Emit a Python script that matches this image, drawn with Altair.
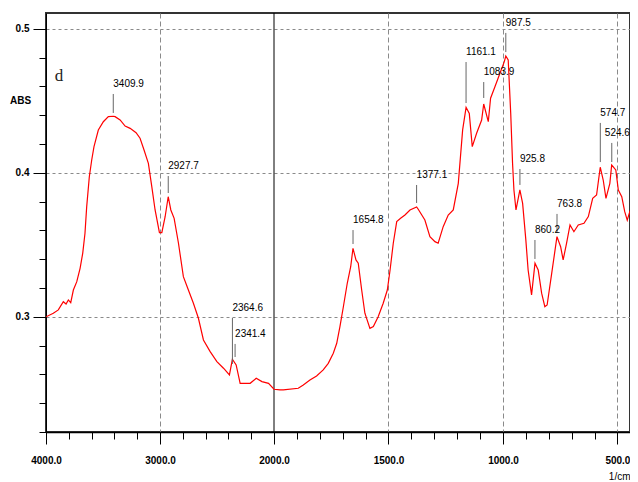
import altair as alt
import pandas as pd

# ---------------- data ----------------
wavenumber = [4000, 3936, 3892, 3848, 3824, 3804, 3783, 3760, 3730, 3701,
              3678, 3658, 3643, 3620, 3599, 3579, 3541, 3497, 3453, 3410,
              3394, 3350, 3306, 3262, 3210, 3175, 3140, 3102, 3072, 3043,
              3005, 2984, 2955, 2928, 2905, 2876, 2838, 2795, 2751, 2707,
              2663, 2619, 2560, 2501, 2443, 2391, 2365, 2332, 2297, 2209,
              2156, 2106, 2048, 2000,
              1974, 1959, 1894, 1872, 1843, 1814, 1785, 1763, 1741, 1726,
              1712, 1697, 1680, 1665, 1655, 1642, 1632, 1617, 1603, 1581,
              1566, 1545, 1523, 1505, 1493, 1479, 1464, 1447, 1428, 1406,
              1377, 1370, 1341, 1319, 1297, 1283, 1261, 1239, 1217, 1195,
              1176, 1161, 1147, 1134, 1115, 1093, 1084, 1064, 1054, 1035,
              1013, 994, 987.5, 977, 966, 958, 952, 943, 926, 914,
              900, 890, 875, 860, 846, 831, 817, 807, 787, 764,
              748, 737, 722, 707, 690, 671, 646, 627, 608, 591,
              575, 562, 550, 533, 525, 507, 496, 481, 468, 457,
              446, 432, 420, 409]

absorbance = [0.3000, 0.3025, 0.3048, 0.3105, 0.3089, 0.3117, 0.3098, 0.3186, 0.3244, 0.3337,
              0.3441, 0.3580, 0.3765, 0.3973, 0.4089, 0.4182, 0.4297, 0.4355, 0.4390, 0.4393,
              0.4390, 0.4367, 0.4325, 0.4309, 0.4279, 0.4240, 0.4159, 0.4066, 0.3904, 0.3742,
              0.3584, 0.3584, 0.3695, 0.3834, 0.3742, 0.3684, 0.3511, 0.3279, 0.3186, 0.3094,
              0.2990, 0.2839, 0.2758, 0.2689, 0.2643, 0.2596, 0.2705, 0.2666, 0.2538, 0.2538,
              0.2573, 0.2550, 0.2538, 0.2497,
              0.2492, 0.2492, 0.2504, 0.2527, 0.2561, 0.2589, 0.2631, 0.2677, 0.2747, 0.2816,
              0.2932, 0.3070, 0.3233, 0.3348, 0.3476, 0.3395, 0.3372, 0.3186, 0.3025, 0.2920,
              0.2932, 0.3001, 0.3094, 0.3186, 0.3325, 0.3511, 0.3661, 0.3684, 0.3707, 0.3742,
              0.3763, 0.3747, 0.3672, 0.3557, 0.3522, 0.3511, 0.3626, 0.3707, 0.3742, 0.3927,
              0.4298, 0.4455, 0.4413, 0.4182, 0.4275, 0.4367, 0.4478, 0.4355, 0.4518, 0.4598,
              0.4691, 0.4772, 0.4811, 0.4784, 0.4413, 0.4066, 0.3881, 0.3742, 0.3881, 0.3788,
              0.3534, 0.3325, 0.3152, 0.3372, 0.3325, 0.3164, 0.3070, 0.3082, 0.3302, 0.3557,
              0.3487, 0.3395, 0.3511, 0.3638, 0.3591, 0.3638, 0.3650, 0.3696, 0.3823, 0.3846,
              0.4039, 0.3950, 0.3823, 0.3927, 0.4054, 0.4020, 0.3881, 0.3834, 0.3730, 0.3672,
              0.3730, 0.3777, 0.3742, 0.3707]

peak_wn = [3409.9, 2927.7, 2364.6, 2341.4, 1654.8, 1377.1, 1161.1,
           1083.9, 987.5, 925.8, 860.2, 763.8, 574.7, 524.6]
peak_labels = ["3409.9", "2927.7", "2364.6", "2341.4", "1654.8", "1377.1", "1161.1",
               "1083.9", "987.5", "925.8", "860.2", "763.8", "574.7", "524.6"]
peak_abs = [0.4388, 0.3832, 0.2645, 0.2693, 0.3478, 0.3763, 0.4457,
            0.4492, 0.4811, 0.3888, 0.3374, 0.3554, 0.4047, 0.4047]
label_abs = [0.4617, 0.4047, 0.3061, 0.2881, 0.3672, 0.3985, 0.4839,
             0.4700, 0.5041, 0.4096, 0.3603, 0.3784, 0.4416, 0.4277]
# where each label text starts (same as the peak, except the last one,
# nudged left so that it stays inside the picture)
label_wn = [3409.9, 2927.7, 2364.6, 2341.4, 1654.8, 1377.1, 1161.1,
            1083.9, 987.5, 925.8, 860.2, 763.8, 574.7, 555.0]

x_tick_values = [4000, 3800, 3600, 3400, 3200, 3000, 2800, 2600, 2400, 2200, 2000,
                 1900, 1800, 1700, 1600, 1500, 1400, 1300, 1200, 1100, 1000,
                 900, 800, 700, 600, 500]
x_major = [4000, 3000, 2000, 1500, 1000, 500]
x_grid = [3000, 1500, 1000, 500]
y_tick_values = [0.22, 0.24, 0.26, 0.28, 0.30, 0.32, 0.34, 0.36, 0.38, 0.40,
                 0.42, 0.44, 0.46, 0.48, 0.50]
scale_break = [2000]
panel_letter = ["d"]
panel_wn = [3886]
panel_abs = [0.467]

FONT = "Liberation Sans, Arial"

# ---------------- chart ----------------
spec_df = pd.DataFrame({"wn": wavenumber, "abs": absorbance})
peak_df = pd.DataFrame({"wn": peak_wn, "label": peak_labels, "peak": peak_abs,
                        "lab": label_abs, "lwn": label_wn})
break_df = pd.DataFrame({"wn": scale_break})
letter_df = pd.DataFrame({"wn": panel_wn, "abs": panel_abs, "t": panel_letter})

x_scale = alt.Scale(domain=[4000, 2000, 445], range=[0, 228, 584], nice=False, zero=False)
y_scale = alt.Scale(domain=[0.22, 0.511], nice=False, zero=False)

major_list = "[" + ",".join(str(v) for v in x_major) + "]"
grid_list = "[" + ",".join(str(v) for v in x_grid) + "]"

x_axis = alt.Axis(
    values=x_tick_values,
    title="1/cm", titleX=584, titleY=44, titleAlign="right", titleBaseline="middle",
    titleFont=FONT, titleFontSize=10, titleFontWeight="normal", titleColor="black",
    labelExpr=f"indexof({major_list}, datum.value) >= 0 ? format(datum.value, '.1f') : ''",
    labelFont=FONT, labelFontSize=10, labelFontWeight="bold", labelColor="black",
    labelPadding=11, labelOverlap=False, labelFlush=False,
    tickColor="black", tickWidth=1,
    tickSize={"condition": {"test": f"indexof({major_list}, datum.value) >= 0", "value": 12}, "value": 7},
    domainColor="black", domainWidth=1.5,
    grid=True, gridColor="#8a8a8a", gridDash=[5, 3], gridWidth=1,
    gridOpacity={"condition": {"test": f"indexof({grid_list}, datum.value) >= 0", "value": 1}, "value": 0},
)

y_major_test = "abs(datum.value*10 - round(datum.value*10)) < 0.001"
y_axis = alt.Axis(
    values=y_tick_values,
    title="ABS", titleAngle=0, titleX=-26, titleY=87, titleAlign="center", titleBaseline="middle",
    titleFont=FONT, titleFontSize=10, titleFontWeight="bold", titleColor="black",
    labelExpr=f"{y_major_test} ? format(datum.value, '.1f') : ''",
    labelFont=FONT, labelFontSize=10, labelFontWeight="bold", labelColor="black",
    labelPadding=4, labelOverlap=False, labelFlush=False,
    tickColor="black", tickWidth=1,
    tickSize={"condition": {"test": y_major_test, "value": 13}, "value": 7},
    domainColor="black", domainWidth=1,
    grid=True, gridColor="#8a8a8a", gridDash=[3, 3], gridWidth=1,
    gridOpacity={"condition": {"test": y_major_test, "value": 1}, "value": 0},
)

X = alt.X("wn:Q", scale=x_scale, axis=x_axis)
Y = alt.Y("abs:Q", scale=y_scale, axis=y_axis)

spectrum = alt.Chart(spec_df).mark_line(color="#ff0000", strokeWidth=1.2, clip=True).encode(x=X, y=Y)

break_rule = alt.Chart(break_df).mark_rule(color="black", strokeWidth=1).encode(
    x=alt.X("wn:Q", scale=x_scale, axis=x_axis)
)

peak_lines = alt.Chart(peak_df).mark_rule(color="#666666", strokeWidth=1, yOffset=10, y2Offset=-4).encode(
    x=alt.X("wn:Q", scale=x_scale, axis=x_axis),
    y=alt.Y("lab:Q", scale=y_scale, axis=y_axis),
    y2="peak:Q",
)

peak_text = alt.Chart(peak_df).mark_text(
    align="left", baseline="middle", font=FONT, fontSize=10, color="black", dx=0
).encode(
    x=alt.X("lwn:Q", scale=x_scale, axis=x_axis),
    y=alt.Y("lab:Q", scale=y_scale, axis=y_axis),
    text="label:N",
)

letter = alt.Chart(letter_df).mark_text(
    align="center", baseline="middle", font="Liberation Serif", fontSize=17, color="#222222"
).encode(
    x=alt.X("wn:Q", scale=x_scale, axis=x_axis),
    y=alt.Y("abs:Q", scale=y_scale, axis=y_axis),
    text="t:N",
)

chart = alt.layer(break_rule, spectrum, peak_lines, peak_text, letter).properties(
    width=584,
    height=419,
    autosize=alt.AutoSizeParams(type="none"),
    padding={"left": 38, "top": 5, "right": 0, "bottom": 50},
    background="white",
).configure_view(stroke="#333333", strokeWidth=2)

chart.save("out.html", embed_options={"renderer": "svg", "actions": False})
